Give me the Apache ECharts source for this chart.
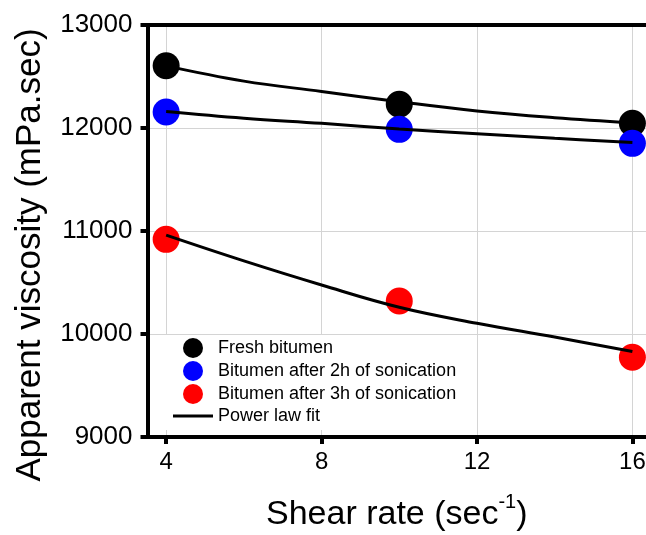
<!DOCTYPE html>
<html>
<head>
<meta charset="utf-8">
<script src="https://cdn.jsdelivr.net/npm/echarts@6/dist/echarts.min.js"></script>
<style>
  html, body { margin: 0; padding: 0; background: #fff; }
  #chart { width: 646px; height: 535px; }
</style>
</head>
<body>
<div id="chart"></div>
<script>
// measured points
const shearRate = [4, 10, 16];
const freshBitumen = [12605, 12230, 12046];
const sonic2h = [12155, 11987, 11851];
const sonic3h = [10919, 10320, 9774];

// power law fit curves
const fitRate = [4, 6, 8, 10, 12, 14, 16];
const fitFresh = [12603, 12455, 12355, 12255, 12165, 12100, 12050];
const fitSonic2h = [12160, 12095, 12045, 11990, 11945, 11900, 11860];
const fitSonic3h = [10960, 10710, 10476, 10260, 10104, 9970, 9830];

const xTicks = [4, 8, 12, 16];

const FONT = '"Liberation Sans", Arial, sans-serif';

const pairs = (xs, ys) => xs.map((x, i) => [x, ys[i]]);

const myChart = echarts.init(document.getElementById('chart'), null, { renderer: 'canvas' });

const scatter = (name, color, values) => ({
  name,
  type: 'scatter',
  symbol: 'circle',
  symbolSize: 27,
  z: 2,
  itemStyle: { color, opacity: 1 },
  data: pairs(shearRate, values)
});

const fit = (values) => ({
  name: 'Power law fit',
  type: 'line',
  smooth: 0.4,
  symbol: 'none',
  z: 3,
  color: '#000',
  lineStyle: { color: '#000', width: 3 },
  data: pairs(fitRate, values)
});

const option = {
  animation: false,
  textStyle: { fontFamily: FONT },
  grid: {
    left: 147.5,
    right: 0,
    top: 25,
    bottom: 98,
    containLabel: false,
    outerBoundsMode: 'none'
  },
  legend: {
    orient: 'vertical',
    left: 164,
    top: 335,
    padding: [3, 11, 5, 9],
    backgroundColor: '#fff',
    itemWidth: 40,
    itemHeight: 20,
    itemGap: 3,
    textStyle: { fontSize: 18, color: '#000', fontFamily: FONT },
    data: [
      { name: 'Fresh bitumen', icon: 'circle' },
      { name: 'Bitumen after 2h of sonication', icon: 'circle' },
      { name: 'Bitumen after 3h of sonication', icon: 'circle' },
      { name: 'Power law fit', icon: 'path://M0,0L40,0L40,3L0,3Z' }
    ]
  },
  xAxis: [
    {
      type: 'value',
      min: 3.52,
      max: 16.35,
      name: '{a|Shear rate (sec}{s|-1}{a|)}',
      nameLocation: 'middle',
      nameGap: 55,
      nameTextStyle: {
        rich: {
          a: { fontSize: 34, lineHeight: 46, color: '#000', fontFamily: FONT },
          s: { fontSize: 20, lineHeight: 20, verticalAlign: 'top', color: '#000', fontFamily: FONT }
        }
      },
      axisLine: { onZero: false, lineStyle: { color: '#000', width: 4 } },
      axisTick: { show: true, inside: false, length: 7, customValues: xTicks, lineStyle: { color: '#000', width: 4 } },
      axisLabel: { margin: 13, fontSize: 24, color: '#000', customValues: xTicks },
      splitLine: { show: true, lineStyle: { color: '#d4d4d4', width: 1 } }
    },
    {
      type: 'value',
      position: 'top',
      min: 3.52,
      max: 16.35,
      axisLine: { show: true, onZero: false, lineStyle: { color: '#000', width: 4 } },
      axisTick: { show: false },
      axisLabel: { show: false },
      splitLine: { show: false }
    }
  ],
  yAxis: {
    type: 'value',
    min: 9000,
    max: 13000,
    interval: 1000,
    name: 'Apparent viscosity (mPa.sec)',
    nameLocation: 'middle',
    nameGap: 100,
    nameTextStyle: { fontSize: 35, color: '#000', padding: [0, 48, 0, 0] },
    axisLine: { show: true, onZero: false, lineStyle: { color: '#000', width: 4 } },
    axisTick: { show: true, inside: false, length: 7, lineStyle: { color: '#000', width: 4 } },
    axisLabel: { margin: 15, fontSize: 26, color: '#000', formatter: (v) => String(v) },
    splitLine: { show: true, lineStyle: { color: '#d4d4d4', width: 1 } }
  },
  series: [
    scatter('Fresh bitumen', '#000000', freshBitumen),
    scatter('Bitumen after 2h of sonication', '#0000ff', sonic2h),
    scatter('Bitumen after 3h of sonication', '#ff0000', sonic3h),
    fit(fitFresh),
    fit(fitSonic2h),
    fit(fitSonic3h)
  ]
};

myChart.setOption(option, true);
</script>
</body>
</html>
